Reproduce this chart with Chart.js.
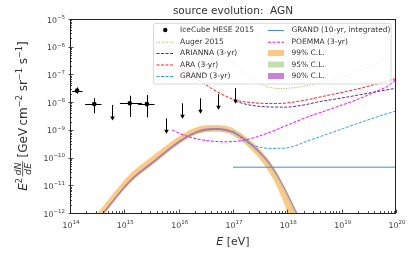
<!DOCTYPE html>
<html><head><meta charset="utf-8">
<script src="https://cdn.jsdelivr.net/npm/chart.js@4"></script>
<style>html,body{margin:0;padding:0;background:#fff;overflow:hidden}canvas{display:block}</style>
</head><body>
<canvas id="c" width="411" height="253"></canvas>
<script>
// ---------- data ----------
const xTickExps = [14, 15, 16, 17, 18, 19, 20];
const yTickExps = [-12, -11, -10, -9, -8, -7, -6, -5];

// IceCube HESE 2015 data points
const heseE    = [1.35e14, 2.8e14, 1.26e15, 2.6e15];
const heseFlux = [2.6e-8, 8.5e-9, 9.1e-9, 8.5e-9];
const heseElo  = [1.1e14, 1.9e14, 8.3e14, 1.8e15];
const heseEhi  = [1.7e14, 3.8e14, 2.1e15, 3.6e15];
const heseFlo  = [2.0e-8, 4.0e-9, 2.9e-9, 2.8e-9];
const heseFhi  = [3.4e-8, 1.38e-8, 1.7e-8, 1.8e-8];
// IceCube HESE 2015 upper limits
const ulE    = [6.0e14, 5.8e15, 1.17e16, 2.45e16, 5.4e16, 1.1e17];
const ulFlux = [7.9e-9, 2.6e-9, 9.1e-9, 1.38e-8, 1.94e-8, 3.2e-8];

// Auger 2015
const augerE    = [6.3e16, 1.0e17, 2.0e17, 4.0e17, 7.4e17, 1.58e18, 5.6e18, 1.58e19, 3.16e19, 5.9e19];
const augerFlux = [5.6e-7, 2.63e-7, 8.3e-8, 3.8e-8, 3.1e-8, 3.47e-8, 6.0e-8, 1.07e-7, 1.74e-7, 3.3e-7];
// ARIANNA (3-yr)
const ariannaE    = [1.1e17, 2.0e17, 4.0e17, 9.1e17, 2.0e18, 4.0e18, 1.0e19, 2.2e19, 5.0e19, 1.0e20];
const ariannaFlux = [1.07e-8, 7.9e-9, 6.8e-9, 6.6e-9, 7.9e-9, 1.05e-8, 1.41e-8, 1.86e-8, 2.5e-8, 3.16e-8];
// ARA (3-yr)
const araE    = [1.07e16, 1.78e16, 3.16e16, 5.75e16, 1.1e17, 2.34e17, 6.5e17, 1.74e18, 5.4e18, 2.2e19, 1.0e20];
const araFlux = [1.9e-7, 8.9e-8, 4.2e-8, 2.1e-8, 1.2e-8, 9.5e-9, 8.9e-9, 1.1e-8, 1.74e-8, 3.16e-8, 7.1e-8];
// GRAND (3-yr)
const grand3E    = [1.0e17, 1.66e17, 2.57e17, 4.8e17, 9.1e17, 2.63e18, 1.07e19, 4.5e19, 1.0e20];
const grand3Flux = [9.1e-10, 4.0e-10, 2.63e-10, 2.14e-10, 2.2e-10, 4.3e-10, 1.12e-9, 2.95e-9, 4.8e-9];
// GRAND (10-yr, integrated)
const grand10E    = [1.0e17, 1.0e20];
const grand10Flux = [4.5e-11, 4.5e-11];
// POEMMA (3-yr)
const poemmaE    = [7.6e15, 1.38e16, 2.45e16, 7.1e16, 1.66e17, 3.9e17, 1.12e18, 2.63e18, 6.2e18, 2.2e19, 5.0e19, 7.1e19, 1.0e20];
const poemmaFlux = [9.8e-10, 6.0e-10, 4.5e-10, 3.7e-10, 4.3e-10, 7.1e-10, 1.62e-9, 3.16e-9, 5.6e-9, 1.38e-8, 2.75e-8, 3.8e-8, 6.8e-8];

// AGN flux bands
const bandE  = [3.2e14, 4.1e14, 1.26e15, 3.4e15, 1.07e16, 2.14e16, 4.27e16, 7.1e16, 1.0e17, 2.04e17, 4.17e17, 6.46e17, 9.8e17, 1.48e18, 2.0e18];
const b99lo  = [4.6e-13, 8.3e-13, 1.17e-11, 5.7e-11, 3.3e-10, 6.9e-10, 8.5e-10, 8.1e-10, 6.3e-10, 2.18e-10, 4.06e-11, 8.9e-12, 1.25e-12, 1.6e-13, 3.4e-14];
const b99hi  = [9.8e-13, 1.78e-12, 2.5e-11, 1.2e-10, 6.3e-10, 1.25e-9, 1.5e-9, 1.41e-9, 1.15e-9, 4.4e-10, 1.05e-10, 2.9e-11, 6.2e-12, 1.15e-12, 3.5e-13];
const b95lo  = [4.6e-13, 8.3e-13, 1.18e-11, 5.7e-11, 3.3e-10, 6.9e-10, 8.9e-10, 8.5e-10, 6.8e-10, 2.6e-10, 6.0e-11, 1.6e-11, 3.3e-12, 5.5e-13, 1.5e-13];
const b95hi  = [6.5e-13, 1.18e-12, 1.66e-11, 8.1e-11, 4.7e-10, 9.7e-10, 1.25e-9, 1.19e-9, 9.7e-10, 3.85e-10, 9.4e-11, 2.72e-11, 6.0e-12, 1.15e-12, 3.45e-13];
const b90lo  = [5.06e-13, 9.2e-13, 1.3e-11, 6.35e-11, 3.66e-10, 7.64e-10, 9.84e-10, 9.38e-10, 7.64e-10, 3.04e-10, 7.45e-11, 2.15e-11, 4.78e-12, 9.2e-13, 2.76e-13];
const b90hi  = [5.97e-13, 1.085e-12, 1.53e-11, 7.49e-11, 4.32e-10, 9.0e-10, 1.16e-9, 1.107e-9, 9.0e-10, 3.58e-10, 8.79e-11, 2.54e-11, 5.64e-12, 1.085e-12, 3.26e-13];

// ---------- styles ----------
const C = {
  auger: '#9aab5e', arianna: '#5a2a96', ara: '#ff2020', grand3: '#3399ff',
  grand10: '#3a8fe0', poemma: '#ff00ff',
  b99: 'rgba(253,192,112,0.85)', b95: 'rgba(178,214,150,0.55)', b90: 'rgba(168,88,190,0.78)'
};
const FONT = '"DejaVu Sans", sans-serif';

function pts(E, F) { return E.map((e, i) => ({x: e, y: F[i]})); }
function curve(label, E, F, color, dash, order) {
  return {label, data: pts(E, F), borderColor: color, borderWidth: 1, borderDash: dash,
    pointRadius: 0, fill: false, cubicInterpolationMode: 'monotone', order};
}
function bandEdge(label, F, fill, color, order) {
  return {label, data: pts(bandE, F), borderColor: 'transparent', borderWidth: 0,
    pointRadius: 0, fill: fill, backgroundColor: color, cubicInterpolationMode: 'monotone', order};
}

const datasets = [
  {type: 'scatter', label: 'IceCube HESE 2015', data: pts(heseE, heseFlux), pointRadius: 2.3,
    pointBackgroundColor: '#000', pointBorderColor: '#000', pointBorderWidth: 0, showLine: false, order: 0},
  curve('Auger 2015', augerE, augerFlux, C.auger, [1, 1.6], 2),
  curve('ARIANNA (3-yr)', ariannaE, ariannaFlux, C.arianna, [3, 1.5], 2),
  curve('ARA (3-yr)', araE, araFlux, C.ara, [3, 1.5], 2),
  curve('GRAND (3-yr)', grand3E, grand3Flux, C.grand3, [3, 1.5], 2),
  curve('GRAND (10-yr, integrated)', grand10E, grand10Flux, C.grand10, [], 2),
  curve('POEMMA (3-yr)', poemmaE, poemmaFlux, C.poemma, [3, 1.5], 2),
  bandEdge('99lo', b99lo, false, C.b99, 12),
  bandEdge('99% C.L.', b99hi, '-1', C.b99, 12),
  bandEdge('95lo', b95lo, false, C.b95, 11),
  bandEdge('95% C.L.', b95hi, '-1', C.b95, 11),
  bandEdge('90lo', b90lo, false, C.b90, 10),
  bandEdge('90% C.L.', b90hi, '-1', C.b90, 10)
];

// ---------- helpers ----------
function supText(ctx, base, exp, x, y, align, bs, es, rise) {
  ctx.font = bs + 'px ' + FONT; const wb = ctx.measureText(base).width;
  ctx.font = es + 'px ' + FONT; const we = ctx.measureText(exp).width;
  const w = wb + we;
  let sx = align === 'center' ? x - w / 2 : (align === 'right' ? x - w : x);
  ctx.textAlign = 'left'; ctx.textBaseline = 'alphabetic';
  ctx.font = bs + 'px ' + FONT; ctx.fillText(base, sx, y);
  ctx.font = es + 'px ' + FONT; ctx.fillText(exp, sx + wb, y - rise);
}
function expStr(n) { return n < 0 ? '\u2212' + Math.abs(n) : String(n); }

const deco = {
  id: 'deco',
  afterDatasetsDraw(chart) {
    const {ctx, chartArea: a, scales: {x, y}} = chart;
    ctx.save();
    // error bars
    ctx.strokeStyle = '#000'; ctx.fillStyle = '#000'; ctx.lineWidth = 1;
    heseE.forEach((e, i) => {
      const px = Math.round(x.getPixelForValue(e)) + 0.5, py = Math.round(y.getPixelForValue(heseFlux[i])) + 0.5;
      ctx.beginPath();
      ctx.moveTo(x.getPixelForValue(heseElo[i]), py); ctx.lineTo(x.getPixelForValue(heseEhi[i]), py);
      ctx.moveTo(px, y.getPixelForValue(heseFlo[i])); ctx.lineTo(px, y.getPixelForValue(heseFhi[i]));
      ctx.stroke();
    });
    // upper-limit arrows
    ulE.forEach((e, i) => {
      const px = Math.round(x.getPixelForValue(e)) + 0.5, top = y.getPixelForValue(ulFlux[i]);
      const tip = top + 15.5;
      ctx.beginPath(); ctx.moveTo(px, top); ctx.lineTo(px, tip - 3); ctx.stroke();
      ctx.beginPath(); ctx.moveTo(px - 2.3, tip - 4); ctx.lineTo(px + 2.3, tip - 4); ctx.lineTo(px, tip); ctx.closePath(); ctx.fill();
    });
    // frame
    ctx.strokeStyle = '#222'; ctx.lineWidth = 1;
    ctx.strokeRect(a.left + 0.5, a.top + 0.5, a.right - a.left - 1, a.bottom - a.top);
    // ticks
    ctx.lineWidth = 0.8; ctx.strokeStyle = '#222';
    ctx.beginPath();
    for (let d = xTickExps[0]; d <= xTickExps[xTickExps.length - 1]; d++) {
      for (let m = 1; m <= 9; m++) {
        const v = m * Math.pow(10, d);
        if (v > Math.pow(10, xTickExps[xTickExps.length - 1])) break;
        const px = Math.round(x.getPixelForValue(v)) + 0.5; const L = m === 1 ? 3.5 : 2;
        ctx.moveTo(px, a.bottom); ctx.lineTo(px, a.bottom - L);
      }
    }
    for (let d = yTickExps[0]; d <= yTickExps[yTickExps.length - 1]; d++) {
      for (let m = 1; m <= 9; m++) {
        const v = m * Math.pow(10, d);
        if (v > Math.pow(10, yTickExps[yTickExps.length - 1])) break;
        const py = Math.round(y.getPixelForValue(v)) + 0.5; const L = m === 1 ? 3.5 : 2;
        ctx.moveTo(a.left - (m === 1 ? 1.5 : 0), py); ctx.lineTo(a.left + L, py);
      }
    }
    ctx.stroke();
    // tick labels
    ctx.fillStyle = '#3a3a3a';
    xTickExps.forEach(n => supText(ctx, '10', expStr(n), x.getPixelForValue(Math.pow(10, n)) + 1, a.bottom + 15, 'center', 7.8, 5.5, 3.7));
    yTickExps.forEach(n => supText(ctx, '10', expStr(n), a.left - 5, y.getPixelForValue(Math.pow(10, n)) + 3.5, 'right', 7.8, 5.5, 3.7));

    // legend
    const L = {x0: 153.5, y0: 23.3, x1: 391, y1: 84};
    ctx.beginPath();
    if (ctx.roundRect) ctx.roundRect(L.x0, L.y0, L.x1 - L.x0, L.y1 - L.y0, 2); else ctx.rect(L.x0, L.y0, L.x1 - L.x0, L.y1 - L.y0);
    ctx.fillStyle = 'rgba(255,255,255,0.8)'; ctx.fill();
    ctx.strokeStyle = '#d0d0d0'; ctx.lineWidth = 0.8; ctx.stroke();
    const rows = [30, 41.7, 53, 64.5, 76];
    const col1 = [
      {t: 'IceCube HESE 2015', k: 'dot'},
      {t: 'Auger 2015', k: 'line', c: C.auger, d: [1, 1.6]},
      {t: 'ARIANNA (3-yr)', k: 'line', c: C.arianna, d: [3, 1.5]},
      {t: 'ARA (3-yr)', k: 'line', c: C.ara, d: [3, 1.5]},
      {t: 'GRAND (3-yr)', k: 'line', c: C.grand3, d: [3, 1.5]}
    ];
    const col2 = [
      {t: 'GRAND (10-yr, integrated)', k: 'line', c: C.grand10, d: []},
      {t: 'POEMMA (3-yr)', k: 'line', c: C.poemma, d: [3, 1.5]},
      {t: '99% C.L.', k: 'patch', c: 'rgba(253,200,130,1)'},
      {t: '95% C.L.', k: 'patch', c: 'rgba(196,222,176,1)'},
      {t: '90% C.L.', k: 'patch', c: 'rgba(200,130,222,1)'}
    ];
    function entry(e, hx0, hx1, tx, yy) {
      if (e.k === 'dot') { ctx.fillStyle = '#000'; ctx.beginPath(); ctx.arc((hx0 + hx1) / 2, yy, 2.2, 0, Math.PI * 2); ctx.fill(); }
      else if (e.k === 'line') { ctx.setLineDash(e.d); ctx.strokeStyle = e.c; ctx.lineWidth = 1; ctx.beginPath(); ctx.moveTo(hx0, yy + 0.5); ctx.lineTo(hx1, yy + 0.5); ctx.stroke(); ctx.setLineDash([]); }
      else { ctx.fillStyle = e.c; ctx.fillRect(hx0, yy - 3, hx1 - hx0, 6); }
      ctx.fillStyle = '#333'; ctx.font = '7.5px ' + FONT; ctx.textAlign = 'left'; ctx.textBaseline = 'middle';
      ctx.fillText(e.t, tx, yy + 0.5);
    }
    col1.forEach((e, i) => entry(e, 156.5, 174, 180, rows[i]));
    col2.forEach((e, i) => entry(e, 268, 284, 291.5, rows[i]));

    // title
    ctx.fillStyle = '#333'; ctx.font = '10.5px ' + FONT; ctx.textAlign = 'center'; ctx.textBaseline = 'alphabetic';
    ctx.fillText('source evolution:  AGN', (a.left + a.right) / 2, 13.5);

    // x label
    const cx = (a.left + a.right) / 2;
    ctx.font = 'italic 11px ' + FONT; const wE = ctx.measureText('E').width;
    ctx.font = '11px ' + FONT; const wR = ctx.measureText(' [eV]').width;
    ctx.textAlign = 'left';
    let sx = cx - (wE + wR) / 2;
    ctx.font = 'italic 11px ' + FONT; ctx.fillText('E', sx, 244.5);
    ctx.font = '11px ' + FONT; ctx.fillText(' [eV]', sx + wE, 244.5);

    // y label (rotated)
    ctx.save();
    ctx.translate(0, (a.top + a.bottom) / 2);
    ctx.rotate(-Math.PI / 2);
    const base = 27; // screen x of main baseline
    const parts = [
      {t: 'E', f: 'italic 12px', dy: 0},
      {t: '2', f: '8.2px', dy: -5},
      {t: 'FRAC'},
      {t: ' [GeV\u2009cm', f: '12px', dy: 0},
      {t: '\u22122', f: '8.2px', dy: -5},
      {t: ' sr', f: '12px', dy: 0},
      {t: '\u22121', f: '8.2px', dy: -5},
      {t: ' s', f: '12px', dy: 0},
      {t: '\u22121', f: '8.2px', dy: -5},
      {t: ']', f: '12px', dy: 0}
    ];
    ctx.font = 'italic 9.5px ' + FONT;
    const wNum = ctx.measureText('dN').width, wDen = ctx.measureText('dE').width;
    const wFrac = Math.max(wNum, wDen) + 2;
    let total = 0;
    parts.forEach(p => { if (p.t === 'FRAC') p.w = wFrac + 1.5; else { ctx.font = p.f + ' ' + FONT; p.w = ctx.measureText(p.t).width; } total += p.w; });
    let rx = -total / 2;
    ctx.textAlign = 'left'; ctx.textBaseline = 'alphabetic'; ctx.fillStyle = '#333';
    parts.forEach(p => {
      if (p.t === 'FRAC') {
        const bar = base - 4.3;
        ctx.font = 'italic 9.5px ' + FONT;
        ctx.fillText('dN', rx + 1.5 + (wFrac - wNum) / 2, bar - 1.5);
        ctx.fillText('dE', rx + 1.5 + (wFrac - wDen) / 2, bar + 8.6);
        ctx.fillRect(rx + 1.5, bar - 0.4, wFrac, 0.8);
      } else {
        ctx.font = p.f + ' ' + FONT;
        ctx.fillText(p.t, rx, base + p.dy);
      }
      rx += p.w;
    });
    ctx.restore();
    ctx.restore();
  }
};

new Chart(document.getElementById('c'), {
  type: 'line',
  data: {datasets},
  options: {
    responsive: false, animation: false, devicePixelRatio: 1,
    layout: {padding: {left: 70, top: 19, right: 15, bottom: 40}},
    scales: {
      x: {type: 'logarithmic', min: Math.pow(10, xTickExps[0]), max: Math.pow(10, xTickExps[xTickExps.length - 1]), display: false},
      y: {type: 'logarithmic', min: Math.pow(10, yTickExps[0]), max: Math.pow(10, yTickExps[yTickExps.length - 1]), display: false}
    },
    plugins: {legend: {display: false}, tooltip: {enabled: false}, title: {display: false}}
  },
  plugins: [deco]
});
</script>
</body></html>
